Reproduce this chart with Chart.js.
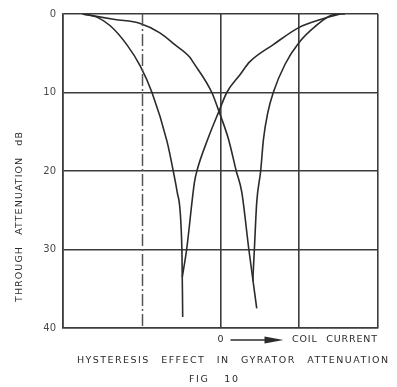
<!DOCTYPE html>
<html>
<head>
<meta charset="utf-8">
<script src="https://cdn.jsdelivr.net/npm/chart.js@4"></script>
<style>
  body { margin: 0; background: #fff; }
</style>
</head>
<body>
<canvas id="chart" width="397" height="387"></canvas>
<script>
// coil current (0 = centre grid line) against through attenuation in dB
// left notch: falling branch and rising branch
const leftFallX  = [-1.75, -1.57, -1.40, -1.19, -1.02, -0.87, -0.68, -0.60, -0.55, -0.49, -0.48];
const leftFallDb = [0, 0.4, 1.5, 3.9, 6.6, 10, 16.2, 20, 22.7, 30, 38.6];
const leftRiseX  = [-0.485, -0.43, -0.33, -0.30, -0.16, -0.02, 0.08, 0.25, 0.37, 0.67, 1.00, 1.27, 1.52];
const leftRiseDb = [33.5, 30, 21.4, 20, 15.9, 12.4, 10, 7.7, 6.1, 3.9, 1.7, 0.7, 0];

// right notch
const rightFallX  = [-1.75, -1.34, -1.02, -0.77, -0.58, -0.39, -0.35, -0.11, -0.02, 0.10, 0.20, 0.27, 0.36, 0.46];
const rightFallDb = [0, 0.7, 1.2, 2.4, 3.9, 5.5, 6.1, 10, 12.4, 15.9, 20, 22.7, 30, 37.5];
const rightRiseX  = [0.41, 0.43, 0.46, 0.51, 0.545, 0.60, 0.67, 0.82, 1.00, 1.20, 1.43, 1.58];
const rightRiseDb = [34, 30, 24, 20, 16, 12.6, 10, 6.4, 3.6, 1.6, 0.1, 0];

const dbTicks = [0, 10, 20, 30, 40];
const dashedAt = -1; // dash-dot grid line

const yTitle = "THROUGH ATTENUATION dB";
const xTitle = "COIL CURRENT";
const caption = "HYSTERESIS EFFECT IN GYRATOR ATTENUATION";
const figLabel = "FIG 10";

const ink = "#2b2b2b";
const gridInk = "#3c3c3c";

function pts(xs, ys) {
  return xs.map((x, i) => ({ x: x, y: ys[i] }));
}

function curve(xs, ys) {
  return {
    data: pts(xs, ys),
    borderColor: ink,
    borderWidth: 1.6,
    pointRadius: 0,
    fill: false,
    cubicInterpolationMode: "monotone",
  };
}

// spread text between x0 and x1 with even letter spacing
function spread(ctx, text, x0, x1, y, wordGap) {
  ctx.letterSpacing = "0px";
  ctx.wordSpacing = wordGap + "px";
  const w = ctx.measureText(text).width;
  const ls = (x1 - x0 - w) / (text.length - 1);
  ctx.letterSpacing = ls + "px";
  ctx.textAlign = "left";
  ctx.fillText(text, x0, y);
  ctx.letterSpacing = "0px";
  ctx.wordSpacing = "0px";
}

const annotations = {
  id: "annotations",
  afterDraw(chart) {
    const ctx = chart.ctx;
    const xs = chart.scales.x;
    const area = chart.chartArea;
    ctx.save();

    // dash-dot grid line
    const dx = Math.round(xs.getPixelForValue(dashedAt)) + 0.5;
    ctx.strokeStyle = "#555";
    ctx.lineWidth = 1.5;
    ctx.setLineDash([12, 3, 2, 3]);
    ctx.beginPath();
    ctx.moveTo(dx, area.top);
    ctx.lineTo(dx, area.bottom);
    ctx.stroke();
    ctx.setLineDash([]);

    ctx.fillStyle = ink;
    ctx.font = "9.5px 'DejaVu Sans'";
    ctx.textBaseline = "middle";

    // y axis title, rotated
    ctx.save();
    ctx.translate(20, 302);
    ctx.rotate(-Math.PI / 2);
    spread(ctx, yTitle, 0, 170, 0, 7);
    ctx.restore();

    // 0 ---> COIL CURRENT
    const zx = xs.getPixelForValue(0);
    ctx.textAlign = "center";
    ctx.fillText("0", zx, 340);
    ctx.strokeStyle = ink;
    ctx.lineWidth = 1.3;
    ctx.beginPath();
    ctx.moveTo(zx + 10, 340);
    ctx.lineTo(zx + 50, 340);
    ctx.stroke();
    ctx.beginPath();
    ctx.moveTo(zx + 44, 336.5);
    ctx.lineTo(zx + 63, 340);
    ctx.lineTo(zx + 44, 343.5);
    ctx.closePath();
    ctx.fill();
    spread(ctx, xTitle, 292, 377, 340, 5);

    spread(ctx, caption, 77, 388, 361, 7);
    spread(ctx, figLabel, 189, 238, 380, 10);

    ctx.restore();
  },
};

new Chart(document.getElementById("chart"), {
  type: "line",
  data: {
    datasets: [
      curve(leftFallX, leftFallDb),
      curve(leftRiseX, leftRiseDb),
      curve(rightFallX, rightFallDb),
      curve(rightRiseX, rightRiseDb),
    ],
  },
  options: {
    responsive: false,
    animation: false,
    layout: { padding: { top: 14, right: 19, left: 0, bottom: 0 } },
    plugins: { legend: { display: false }, tooltip: { enabled: false } },
    scales: {
      x: {
        type: "linear",
        min: -2,
        max: 2,
        ticks: { stepSize: 1, display: false },
        grid: {
          color: (c) => (c.tick && c.tick.value === dashedAt ? "rgba(0,0,0,0)" : gridInk),
          lineWidth: 1.6,
          drawTicks: false,
        },
        border: { color: gridInk, width: 1.6 },
        afterFit: (s) => { s.height = 59; },
      },
      y: {
        reverse: true,
        min: 0,
        max: 40,
        afterBuildTicks: (s) => { s.ticks = dbTicks.map((v) => ({ value: v })); },
        ticks: {
          color: "#4a4a4a",
          padding: 7,
          font: { family: "'DejaVu Sans'", size: 10 },
        },
        grid: { color: gridInk, lineWidth: 1.6, drawTicks: false },
        border: { color: gridInk, width: 1.6 },
        afterFit: (s) => { s.width = 63; },
      },
    },
  },
  plugins: [annotations],
});
</script>
</body>
</html>
